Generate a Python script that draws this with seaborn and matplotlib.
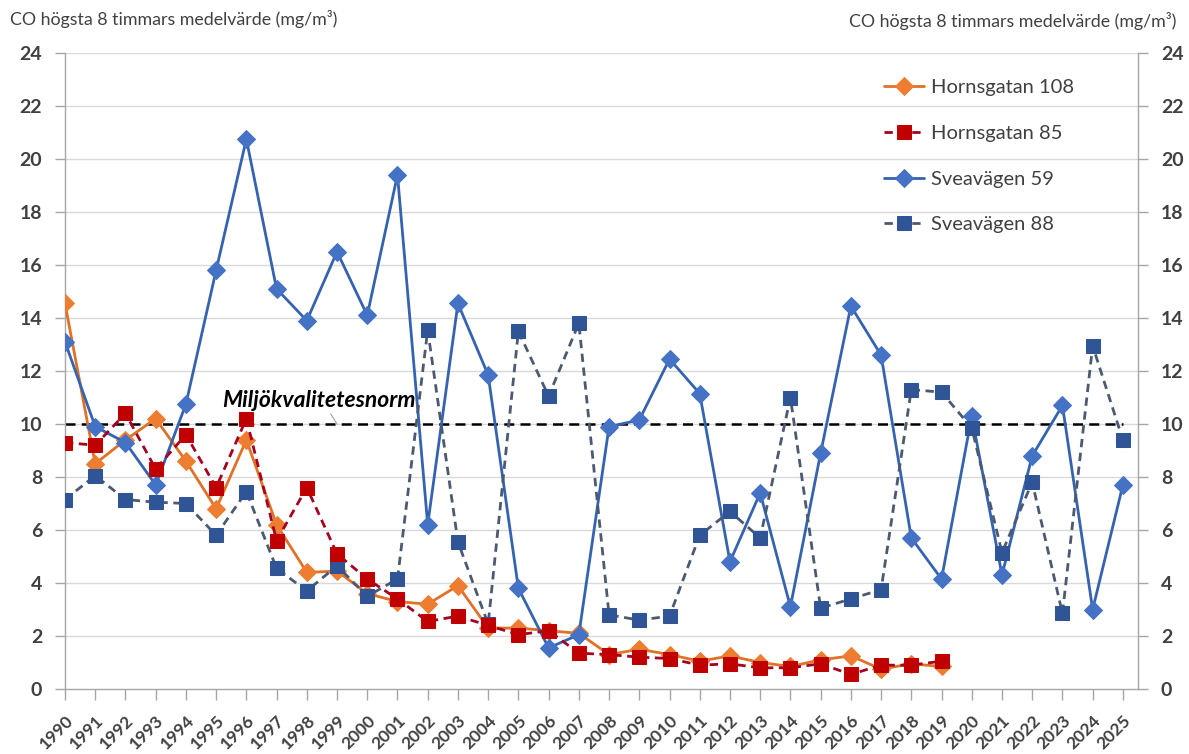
import matplotlib
matplotlib.use("Agg")
import matplotlib.pyplot as plt
import seaborn as sns

# years on the category axis
years = list(range(1990, 2026))
years_horns = list(range(1990, 2020))

hornsgatan_108 = [14.55, 8.5, 9.4, 10.2, 8.6, 6.8, 9.4, 6.2, 4.4, 4.45,
                  3.6, 3.3, 3.2, 3.9, 2.3, 2.3, 2.2, 2.1, 1.3, 1.5,
                  1.3, 1.05, 1.25, 1.0, 0.85, 1.1, 1.25, 0.75, 0.95, 0.85]
hornsgatan_85 = [9.3, 9.2, 10.4, 8.3, 9.6, 7.6, 10.2, 5.6, 7.6, 5.1,
                 4.15, 3.4, 2.55, 2.75, 2.4, 2.05, 2.2, 1.35, 1.3, 1.2,
                 1.15, 0.9, 0.95, 0.8, 0.8, 0.95, 0.55, 0.9, 0.9, 1.05]
sveavagen_59 = [13.1, 9.9, 9.3, 7.7, 10.75, 15.8, 20.75, 15.1, 13.9, 16.5,
                14.1, 19.4, 6.2, 14.55, 11.85, 3.8, 1.55, 2.05, 9.9, 10.15,
                12.45, 11.15, 4.8, 7.4, 3.1, 8.9, 14.45, 12.6, 5.7, 4.15,
                10.3, 4.3, 8.8, 10.7, 3.0, 7.7]
sveavagen_88 = [7.15, 8.05, 7.15, 7.05, 7.0, 5.8, 7.45, 4.55, 3.7, 4.65,
                3.5, 4.15, 13.55, 5.55, 2.45, 13.5, 11.05, 13.8, 2.8, 2.6,
                2.75, 5.8, 6.7, 5.7, 11.0, 3.05, 3.4, 3.75, 11.3, 11.2,
                9.85, 5.15, 7.8, 2.85, 12.95, 9.4]
norm_value = 10
norm_label = "Miljökvalitetesnorm"
y_label = "CO högsta 8 timmars medelvärde (mg/m³)"
y_ticks = list(range(0, 25, 2))

sns.set_theme(style="white")
plt.rcParams['font.family'] = ['Lato', 'DejaVu Sans']

fig = plt.figure(figsize=(11.89, 7.54), dpi=100)
ax = fig.add_axes([65 / 1189, 1 - 689 / 754, (1138 - 65) / 1189, (689 - 53) / 754])

# gridlines
for t in y_ticks[1:]:
    ax.axhline(t, color="#D9D9D9", lw=1, zorder=0)

# norm line
ax.plot(years, [norm_value] * len(years), color="black", ls=(0, (4, 2.5)), lw=1.8, zorder=1)

sns.lineplot(x=years_horns, y=hornsgatan_108, ax=ax, color="#E07126", lw=2,
             marker="D", markersize=9, markerfacecolor="#ED7D31",
             markeredgecolor="#ED7D31", label="Hornsgatan 108", zorder=3)
sns.lineplot(x=years_horns, y=hornsgatan_85, ax=ax, color="#A50021", lw=2,
             ls=(0, (3, 2)), marker="s", markersize=9.5, markerfacecolor="#C00000",
             markeredgecolor="#C00000", label="Hornsgatan 85", zorder=4)
sns.lineplot(x=years, y=sveavagen_59, ax=ax, color="#3563B0", lw=2,
             marker="D", markersize=9, markerfacecolor="#4472C4",
             markeredgecolor="#4472C4", label="Sveavägen 59", zorder=3)
sns.lineplot(x=years, y=sveavagen_88, ax=ax, color="#4B5A70", lw=2,
             ls=(0, (3, 2)), marker="s", markersize=9.5, markerfacecolor="#2F5597",
             markeredgecolor="#2F5597", label="Sveavägen 88", zorder=3)

ax.annotate(norm_label, xy=(1999.0, norm_value), xytext=(1995.2, 10.9),
            fontsize=16.5, fontweight="bold", fontstyle="italic", color="black",
            va="center", ha="left",
            arrowprops=dict(arrowstyle="-", color="#A0A0A0", lw=0.8,
                            shrinkA=0, shrinkB=0, relpos=(0.55, 0.0)))

ax.set_xlim(1990, 2025.5)
ax.set_ylim(0, 24)
ax.set_yticks(y_ticks)
ax.set_xticks(years)
ax.set_xticklabels([str(y) for y in years], rotation=45, ha="right", va="top",
                   rotation_mode="anchor", fontsize=12.5, fontweight="bold", color="#404040")
ax.tick_params(axis="x", length=8, width=1, color="#A6A6A6", pad=9, bottom=True)
ax.tick_params(axis="y", length=7, width=1, color="#A6A6A6", left=True, pad=9.5,
               labelsize=14, labelcolor="#404040")
for lab in ax.get_yticklabels():
    lab.set_fontweight("bold")
ax.set_xlabel("")
ax.set_ylabel("")

ax2 = ax.twinx()
ax2.set_ylim(0, 24)
ax2.set_yticks(y_ticks)
ax2.tick_params(axis="y", length=7, width=1, color="#A6A6A6", right=True, pad=9.5,
                labelsize=14, labelcolor="#404040")
for lab in ax2.get_yticklabels():
    lab.set_fontweight("bold")

for a in (ax, ax2):
    a.spines["top"].set_visible(False)
    for s in ("left", "right", "bottom"):
        a.spines[s].set_color("#A6A6A6")
        a.spines[s].set_linewidth(1)
ax.spines["right"].set_visible(False)
ax2.spines["left"].set_visible(False)
ax2.spines["bottom"].set_visible(False)

fig.text(10 / 1189, 1 - 19 / 754, y_label, fontsize=12.8, color="#404040", va="center", ha="left")
fig.text(1176 / 1189, 1 - 21 / 754, y_label, fontsize=12.8, color="#404040", va="center", ha="right")

ax.legend(loc="upper left", bbox_to_anchor=(874 / 1189, 1 - 69 / 754),
          bbox_transform=fig.transFigure, frameon=False, fontsize=14.5,
          labelspacing=1.42, handlelength=2.0, handletextpad=0.35, borderpad=0,
          labelcolor="#404040")

fig.savefig("out.png", dpi=100)
plt.close(fig)
